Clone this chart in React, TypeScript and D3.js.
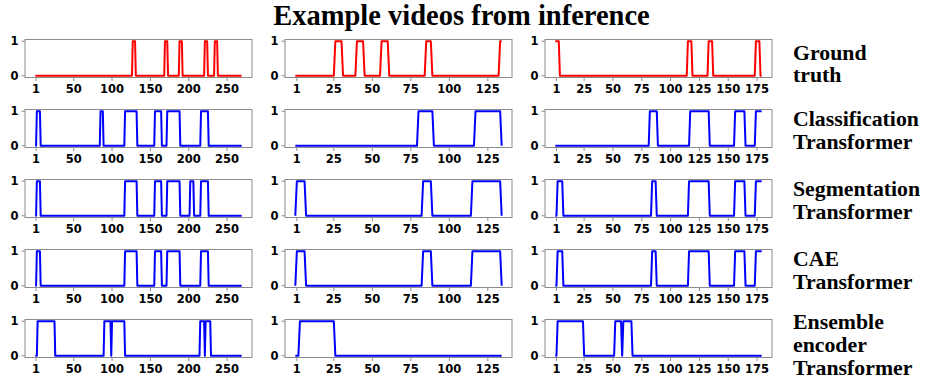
import React from "react";
import * as d3 from "d3";

// Number of frames in each example video (columns)
const videoLengths = [270, 135, 180];

// Tick values shown under each column
const xTickValues = [
  [1, 50, 100, 150, 200, 250],
  [1, 25, 50, 75, 100, 125],
  [1, 25, 50, 75, 100, 125, 150, 175],
];
const yTickValues = [0, 1];

// Frame ranges (inclusive) labelled 1, per video
const groundTruth = [
  [[127, 130], [169, 172], [188, 191], [221, 224], [234, 237]],
  [[26, 30], [40, 44], [56, 60], [85, 88], [133, 134]],
  [[0, 3], [115, 118], [133, 136], [174, 177]],
];
const classificationTransformer = [
  [[2, 6], [85, 88], [117, 132], [156, 164], [172, 188], [216, 225]],
  [[80, 89], [117, 133]],
  [[82, 88], [117, 133], [156, 164], [174, 179]],
];
const segmentationTransformer = [
  [[2, 6], [117, 132], [156, 164], [172, 188], [202, 206], [216, 225]],
  [[1, 6], [83, 88], [115, 133]],
  [[2, 6], [84, 87], [116, 133], [156, 164], [174, 179]],
];
const caeTransformer = [
  [[2, 6], [117, 132], [156, 164], [172, 188], [216, 225]],
  [[1, 6], [83, 88], [115, 133]],
  [[2, 6], [84, 87], [116, 133], [156, 164], [174, 179]],
];
const ensembleEncoderTransformer = [
  [[3, 25], [90, 98], [100, 116], [215, 220], [222, 228]],
  [[3, 25]],
  [[2, 24], [52, 57], [59, 66]],
];

const rowSeries = [
  groundTruth,
  classificationTransformer,
  segmentationTransformer,
  caeTransformer,
  ensembleEncoderTransformer,
];
const rowLabels = [
  ["Ground", "truth"],
  ["Classification", "Transformer"],
  ["Segmentation", "Transformer"],
  ["CAE", "Transformer"],
  ["Ensemble", "encoder", "Transformer"],
];
const rowColors = ["#ff0000", "#0000ff", "#0000ff", "#0000ff", "#0000ff"];
const title = "Example videos from inference";

// Layout
const W = 927;
const H = 380;
const colLeft = [25, 285, 545];
const panelW = 227;
const firstTop = 39.5;
const rowStep = 70;
const panelH = 38;
const labelX = 793;
const labelBaseline = [59.5, 126, 196, 266, 329.3];
const labelLineGap = 22.6;
const frameColor = "#8c8c8c";
const tickFont = "'DejaVu Sans', sans-serif";
const tickSize = 11.5;
const serif = "'Liberation Serif', 'Times New Roman', serif";

function expand(n: number, ranges: number[][]): [number, number][] {
  const vals = new Array(n).fill(0);
  ranges.forEach(([a, b]) => {
    for (let i = a; i <= b && i < n; i++) vals[i] = 1;
  });
  return vals.map((v, i) => [i, v]);
}

function Panel({ row, col }: { row: number; col: number }) {
  const n = videoLengths[col];
  const left = colLeft[col];
  const top = firstTop + row * rowStep;
  const span = n - 1;
  const x = d3
    .scaleLinear()
    .domain([-0.05 * span, span * 1.05])
    .range([left, left + panelW]);
  const y = d3.scaleLinear().domain([-0.05, 1.05]).range([top + panelH, top]);
  const pts = expand(n, rowSeries[row][col]);
  const path = d3
    .line<[number, number]>()
    .x((d) => x(d[0]))
    .y((d) => y(d[1]))(pts);
  const bottom = top + panelH;
  return (
    <g>
      <path d={path || ""} fill="none" stroke={rowColors[row]} strokeWidth={2} strokeLinejoin="round" />
      <rect x={left} y={top} width={panelW} height={panelH} fill="none" stroke={frameColor} strokeWidth={1} />
      {yTickValues.map((t) => (
        <g key={"y" + t}>
          <line x1={left - 3.5} x2={left} y1={y(t)} y2={y(t)} stroke={frameColor} strokeWidth={1} />
          <text
            x={left - 6.5}
            y={y(t) + 4.2}
            textAnchor="end"
            fontFamily={tickFont}
            fontWeight="bold"
            fontSize={tickSize}
            fill="#000"
          >
            {t}
          </text>
        </g>
      ))}
      {xTickValues[col].map((t) => (
        <g key={"x" + t}>
          <line x1={x(t)} x2={x(t)} y1={bottom} y2={bottom + 3.5} stroke={frameColor} strokeWidth={1} />
          <text
            x={x(t)}
            y={bottom + 15.2}
            textAnchor="middle"
            fontFamily={tickFont}
            fontWeight="bold"
            fontSize={tickSize}
            fill="#000"
          >
            {t}
          </text>
        </g>
      ))}
    </g>
  );
}

export default function App() {
  return (
    <svg
      width={W}
      height={H}
      viewBox={`0 0 ${W} ${H}`}
      style={{ position: "absolute", left: 0, top: 0, background: "#fff" }}
    >
      <rect width={W} height={H} fill="#fff" />
      <text x={461.5} y={25} textAnchor="middle" fontFamily={serif} fontWeight="bold" fontSize={28.5} fill="#000">
        {title}
      </text>
      {rowSeries.map((_, r) =>
        videoLengths.map((__, c) => <Panel key={r + "-" + c} row={r} col={c} />)
      )}
      {rowLabels.map((lines, r) => (
        <text key={"l" + r} fontFamily={serif} fontWeight="bold" fontSize={21.8} fill="#000">
          {lines.map((s, i) => (
            <tspan key={i} x={labelX} y={labelBaseline[r] + i * labelLineGap}>
              {s}
            </tspan>
          ))}
        </text>
      ))}
    </svg>
  );
}
